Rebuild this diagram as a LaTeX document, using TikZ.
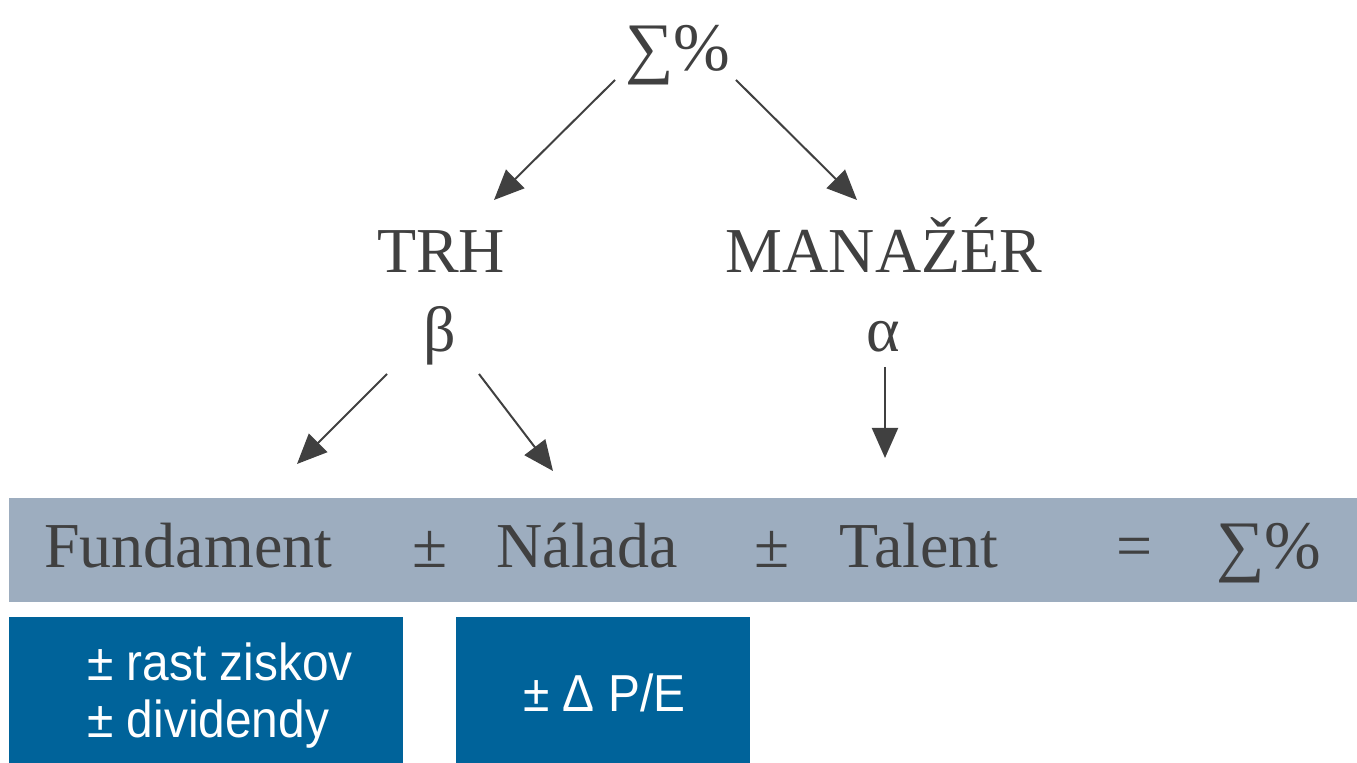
\documentclass[tikz,border=0pt]{standalone}
\usepackage{fontspec}
\setmainfont{Liberation Serif}
\newfontfamily\kastenschrift[FakeStretch=0.92]{Liberation Sans}
\usetikzlibrary{arrows.meta}
\definecolor{textgrau}{HTML}{404040}
\definecolor{streifen}{HTML}{9DADBF}
\definecolor{kasten}{HTML}{00639A}
\tikzset{
	wort/.style={text=textgrau,font=\fontsize{32}{36}\selectfont,inner sep=0pt},
	summe/.style={wort,font=\fontsize{34}{38}\selectfont},
	pfeil/.style={draw=textgrau,line width=1pt,-{Triangle[length=15pt,width=13pt]}},
	kastentext/.style={text=white,font=\kastenschrift\fontsize{26}{28.5}\selectfont,align=left,inner sep=0pt}
}

\begin{document}
\begin{tikzpicture}[x=0.5pt,y=-0.5pt]
	\useasboundingbox (0,0) rectangle (1357,763);
	% oben
	\node[summe,anchor=base] (summe) at (678,71) {∑\%};
	\node[wort,anchor=base] (trh) at (441,273) {TRH};
	\node[wort,anchor=base] (beta) at (440,352) {β};
	\node[wort,anchor=base] (manazer) at (884,273) {MANAŽÉR};
	\node[wort,anchor=base] (alpha) at (883,352) {α};
	% streifen
	\fill[streifen] (9,498) rectangle (1357,602);
	\node[wort,anchor=base west] (fundament) at (44,568) {Fundament};
	\node[wort,anchor=base] (pm1) at (430,568) {±};
	\node[wort,anchor=base west] (nalada) at (496,568) {Nálada};
	\node[wort,anchor=base] (pm2) at (772,568) {±};
	\node[wort,anchor=base west] (talent) at (839,568) {Talent};
	\node[wort,anchor=base] (gleich) at (1135,568) {=};
	\node[summe,anchor=base west] (ergebnis) at (1216,569) {∑\%};
	% kaesten
	\fill[kasten] (9,617) rectangle (403,763);
	\fill[kasten] (456,617) rectangle (750,763);
	\node[kastentext,anchor=base west] (zisk) at (87,681) {± rast ziskov};
	\node[kastentext,anchor=base west] (divi) at (87,738) {± dividendy};
	\node[kastentext,anchor=base west] (pe) at (523,712) {± Δ P/E};
	% pfeile
	\coordinate (s1) at (615,80);
	\coordinate (e1) at (494,200);
	\coordinate (s2) at (736,80);
	\coordinate (e2) at (857,200);
	\coordinate (s3) at (387,374);
	\coordinate (e3) at (297,464);
	\coordinate (s4) at (479,374);
	\coordinate (e4) at (553,471);
	\coordinate (s5) at (885,367);
	\coordinate (e5) at (885,458);
	\foreach \i in {1,...,5}{
		\draw[pfeil] (s\i) -- (e\i);
	}
\end{tikzpicture}
\end{document}
